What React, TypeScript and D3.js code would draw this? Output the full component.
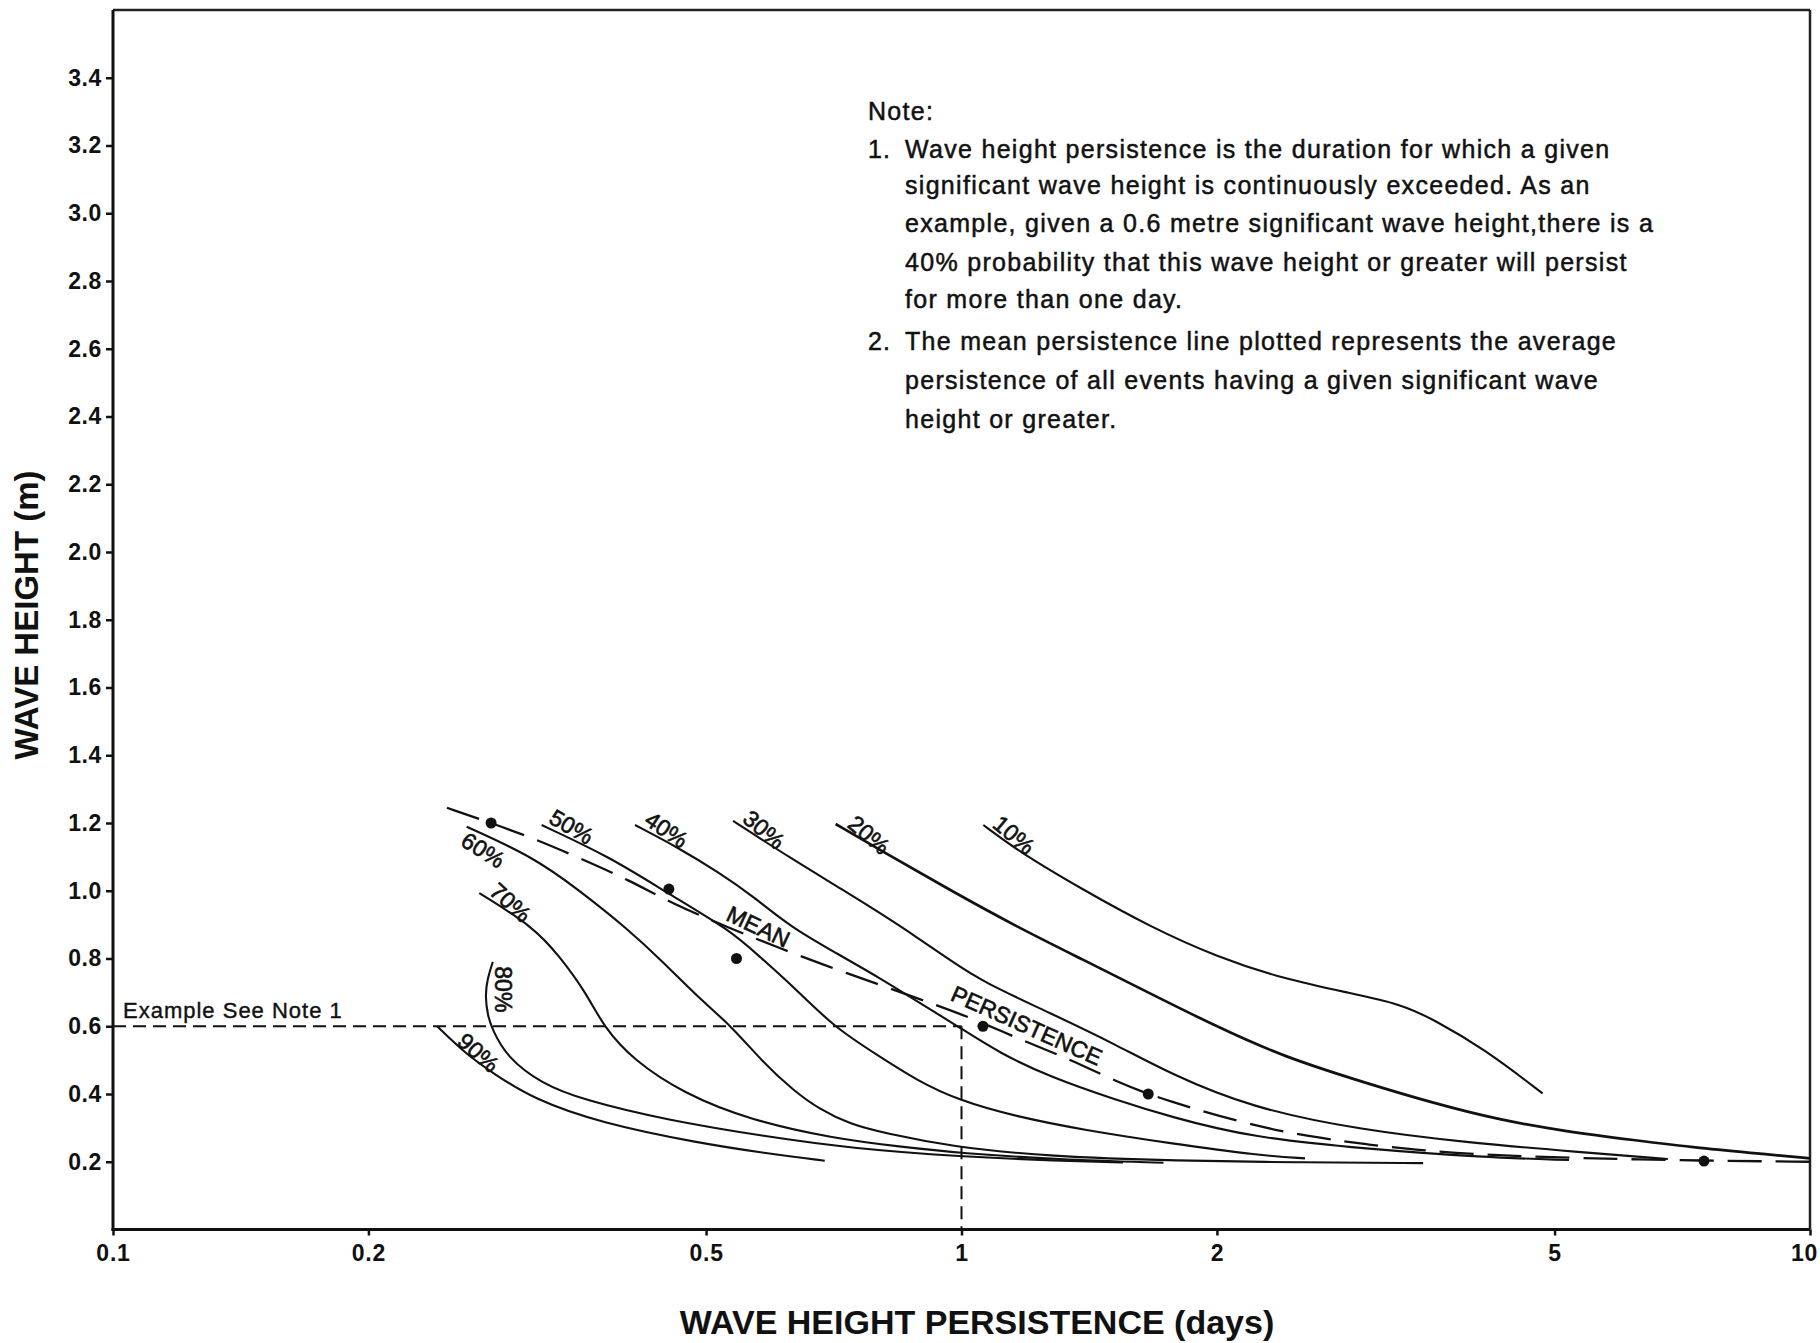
import React, { useEffect, useRef } from "react";
import * as d3 from "d3";

const W = 1820;
const H = 1343;

// axis ticks
const xTicks = [0.1, 0.2, 0.5, 1, 2, 5, 10];
const xTickLabels = ["0.1", "0.2", "0.5", "1", "2", "5", "10"];
const yTicks = [0.2, 0.4, 0.6, 0.8, 1.0, 1.2, 1.4, 1.6, 1.8, 2.0, 2.2, 2.4, 2.6, 2.8, 3.0, 3.2, 3.4];

// persistence curves [days, wave height m]
const p10 = [[1.061, 1.194], [1.161, 1.12], [1.392, 1.002], [1.668, 0.894], [1.998, 0.805], [2.395, 0.74], [2.871, 0.698], [3.3, 0.665], [3.6, 0.62], [4.12, 0.535], [4.84, 0.402]];
const p20 = [[0.7106, 1.197], [0.809, 1.115], [0.969, 1.002], [1.161, 0.894], [1.392, 0.796], [1.668, 0.697], [1.998, 0.599], [2.395, 0.51], [3.0, 0.432], [3.6, 0.373], [4.31, 0.323], [5.17, 0.289], [6.19, 0.264], [7.42, 0.24], [8.89, 0.222], [10, 0.21]];
const p30 = [[0.538, 1.206], [0.6336, 1.091], [0.7257, 1.002], [0.8017, 0.934], [0.885, 0.864], [0.969, 0.795], [1.061, 0.73], [1.27, 0.64], [1.523, 0.545], [1.761, 0.46], [2.19, 0.36], [2.95, 0.294], [3.96, 0.256], [5.33, 0.229], [6.8, 0.208]];
const p40 = [[0.4123, 1.194], [0.4615, 1.13], [0.5193, 1.052], [0.5685, 0.983], [0.628, 0.894], [0.7128, 0.815], [0.8017, 0.742], [0.885, 0.675], [0.99, 0.6], [1.11, 0.52], [1.27, 0.451], [1.523, 0.382], [1.761, 0.333], [2.19, 0.272], [3.0, 0.238], [4.11, 0.213], [5.2, 0.205]];
const p50 = [[0.32, 1.194], [0.385, 1.1], [0.449, 0.995], [0.5336, 0.884], [0.5785, 0.805], [0.6336, 0.717], [0.706, 0.599], [0.8017, 0.51], [0.885, 0.441], [0.99, 0.382], [1.161, 0.333], [1.392, 0.294], [1.761, 0.2545], [2.25, 0.218], [2.54, 0.21]];
const p60 = [[0.2611, 1.189], [0.3128, 1.1], [0.355, 1.0], [0.403, 0.89], [0.445, 0.79], [0.487, 0.69], [0.536, 0.6], [0.583, 0.494], [0.634, 0.41], [0.68, 0.355], [0.74, 0.31], [0.81, 0.285], [0.97, 0.245], [1.27, 0.215], [1.8, 0.203], [2.5, 0.198], [3.5, 0.196]];
const p70 = [[0.2702, 0.993], [0.3128, 0.894], [0.3364, 0.805], [0.3615, 0.697], [0.3785, 0.599], [0.4104, 0.5], [0.47, 0.402], [0.5632, 0.323], [0.7063, 0.269], [0.846, 0.2445], [1.0, 0.225], [1.3, 0.207], [1.73, 0.197]];
const p80 = [[0.2803, 0.79], [0.2762, 0.74], [0.2745, 0.69], [0.2765, 0.63], [0.28, 0.59], [0.291, 0.51], [0.319, 0.432], [0.3585, 0.382], [0.449, 0.323], [0.589, 0.274], [0.739, 0.24], [1.0, 0.215], [1.3, 0.203], [1.55, 0.198]];
const p90 = [[0.241, 0.6], [0.26, 0.52], [0.281, 0.46], [0.313, 0.385], [0.375, 0.315], [0.49, 0.255], [0.6, 0.222], [0.69, 0.203]];
const curves = [p10, p20, p30, p40, p50, p60, p70, p80, p90];

// mean persistence
const meanLine = [[0.2475, 1.245], [0.279, 1.2], [0.3128, 1.155], [0.355, 1.096], [0.4068, 1.03], [0.4555, 0.963], [0.5336, 0.889], [0.611, 0.83], [0.697, 0.776], [0.8017, 0.722], [0.909, 0.673], [1.02, 0.628], [1.19, 0.554], [1.35, 0.5], [1.523, 0.436], [1.73, 0.382], [2.25, 0.3], [2.65, 0.27], [3.02, 0.25], [3.45, 0.235], [4.0, 0.222], [5.35, 0.21], [7.5, 0.203], [10, 0.2]];
const meanPoints = [[0.279, 1.2], [0.452, 1.005], [0.543, 0.8], [1.06, 0.6], [1.66, 0.4], [7.5, 0.202]];

// curve labels
const labelTexts = ["10%", "20%", "30%", "40%", "50%", "60%", "70%", "80%", "90%", "MEAN", "PERSISTENCE"];
const labelX = [1.153, 0.778, 0.585, 0.449, 0.347, 0.273, 0.294, 0.2884, 0.2695, 0.576, 1.193];
const labelY = [1.165, 1.165, 1.18, 1.18, 1.189, 1.12, 0.965, 0.709, 0.522, 0.894, 0.602];
const labelAngle = [40, 40, 40, 34, 30, 32, 42, 90, 42, 25, 24];

// example
const exampleX = 1;
const exampleY = 0.6;
const exampleText = "Example See Note 1";

const noteLines = [
  { n: "", t: "Note:" },
  { n: "1.", t: "Wave height persistence is the duration for which a given" },
  { n: "", t: "significant wave height is continuously exceeded. As an" },
  { n: "", t: "example, given a 0.6 metre significant wave height,there is a" },
  { n: "", t: "40% probability that this wave height or greater will persist" },
  { n: "", t: "for more than one day." },
  { n: "2.", t: "The mean persistence line plotted represents the average" },
  { n: "", t: "persistence of all events having a given significant wave" },
  { n: "", t: "height or greater." },
];
const noteBaselines = [120, 158, 194, 232, 271, 308, 350, 389, 428];

const FONT = "'Liberation Sans', Arial, Helvetica, sans-serif";

export default function App() {
  const xAxisRef = useRef<SVGGElement>(null);
  const yAxisRef = useRef<SVGGElement>(null);

  const left = 113, right = 1810, top = 10, bottom = 1229.5;
  const x = d3.scaleLog().domain([0.1, 10]).range([left, right]);
  const y = d3.scaleLinear().domain([0, 3.6]).range([bottom, top]);

  const line = d3
    .line<number[]>()
    .x((d) => x(d[0]))
    .y((d) => y(d[1]))
    .curve(d3.curveBasis);

  useEffect(() => {
    const gx = d3.select(xAxisRef.current as SVGGElement);
    gx.selectAll("*").remove();
    gx.call(
      d3
        .axisBottom(x)
        .tickValues(xTicks)
        .tickSize(6)
        .tickPadding(9)
        .tickFormat((d, i) => xTickLabels[i])
    );
    gx.select(".domain").remove();
    gx.selectAll("line").attr("stroke", "#111").attr("stroke-width", 2.5);
    gx.selectAll("text")
      .attr("font-family", FONT)
      .attr("font-weight", "bold")
      .attr("font-size", 23)
      .attr("letter-spacing", 0.8)
      .attr("fill", "#111")
      .attr("dx", (d: any) => (d === 10 ? -6 : 0));

    const gy = d3.select(yAxisRef.current as SVGGElement);
    gy.selectAll("*").remove();
    gy.call(
      d3
        .axisLeft(y)
        .tickValues(yTicks)
        .tickSize(7)
        .tickPadding(4)
        .tickFormat(d3.format(".1f"))
    );
    gy.select(".domain").remove();
    gy.selectAll("line").attr("stroke", "#111").attr("stroke-width", 2.5);
    gy.selectAll("text")
      .attr("font-family", FONT)
      .attr("font-weight", "bold")
      .attr("font-size", 23)
      .attr("letter-spacing", 0.6)
      .attr("fill", "#111");
  }, []);

  return (
    <svg
      width={W}
      height={H}
      style={{ position: "absolute", left: 0, top: 0, background: "#fff" }}
      fontFamily={FONT}
    >
      <rect x={0} y={0} width={W} height={H} fill="#fff" />
      {/* frame */}
      <line x1={left} x2={right} y1={top} y2={top} stroke="#222" strokeWidth={2.5} />
      <line x1={right} x2={right} y1={top} y2={bottom} stroke="#222" strokeWidth={2.5} />
      <line x1={left} x2={left} y1={top} y2={bottom + 1.5} stroke="#111" strokeWidth={3} />
      <line x1={left - 1.5} x2={right} y1={bottom} y2={bottom} stroke="#111" strokeWidth={3} />

      <g ref={xAxisRef} transform={`translate(0,${bottom})`} />
      <g ref={yAxisRef} transform={`translate(${left},0)`} />

      {/* example dashed lines */}
      <line
        x1={x(0.1)}
        x2={x(exampleX)}
        y1={y(exampleY)}
        y2={y(exampleY)}
        stroke="#111"
        strokeWidth={2}
        strokeDasharray="13,7"
      />
      <line
        x1={x(exampleX)}
        x2={x(exampleX)}
        y1={y(exampleY)}
        y2={y(0)}
        stroke="#111"
        strokeWidth={2}
        strokeDasharray="13,7"
      />
      <text
        x={123}
        y={y(exampleY) - 8}
        fontSize={22}
        letterSpacing={1}
        fill="#111"
        stroke="#111"
        strokeWidth={0.4}
      >
        {exampleText}
      </text>

      {/* curves */}
      {curves.map((c, i) => (
        <path key={i} d={line(c) || ""} fill="none" stroke="#111" strokeWidth={i === 1 ? 2.7 : 2.1} />
      ))}

      {/* mean persistence */}
      <path d={line(meanLine) || ""} fill="none" stroke="#111" strokeWidth={2.3} strokeDasharray="34,14" />
      {meanPoints.map((p, i) => (
        <circle key={i} cx={x(p[0])} cy={y(p[1])} r={5.5} fill="#111" />
      ))}

      {/* labels */}
      {labelTexts.map((t, i) => (
        <text
          key={t}
          transform={`translate(${x(labelX[i])},${y(labelY[i])}) rotate(${labelAngle[i]})`}
          textAnchor="middle"
          dominantBaseline="central"
          fontSize={i >= 9 ? 23 : 23}
          fill="#111"
          stroke="#111"
          strokeWidth={0.6}
        >
          {t}
        </text>
      ))}

      {/* note */}
      {noteLines.map((l, i) => (
        <g key={i} fill="#111" stroke="#111" strokeWidth={0.5}>
          {l.n && (
            <text x={868} y={noteBaselines[i]} fontSize={25} letterSpacing={1}>
              {l.n}
            </text>
          )}
          <text x={i === 0 ? 868 : 905} y={noteBaselines[i]} fontSize={25} letterSpacing={1.3}>
            {l.t}
          </text>
        </g>
      ))}

      {/* axis titles */}
      <text x={977} y={1334} textAnchor="middle" fontSize={34} fontWeight={900} fill="#111">
        WAVE HEIGHT PERSISTENCE (days)
      </text>
      <text
        transform={`translate(38,615) rotate(-90)`}
        textAnchor="middle"
        fontSize={33}
        fontWeight={900}
        fill="#111"
      >
        WAVE HEIGHT (m)
      </text>
    </svg>
  );
}
